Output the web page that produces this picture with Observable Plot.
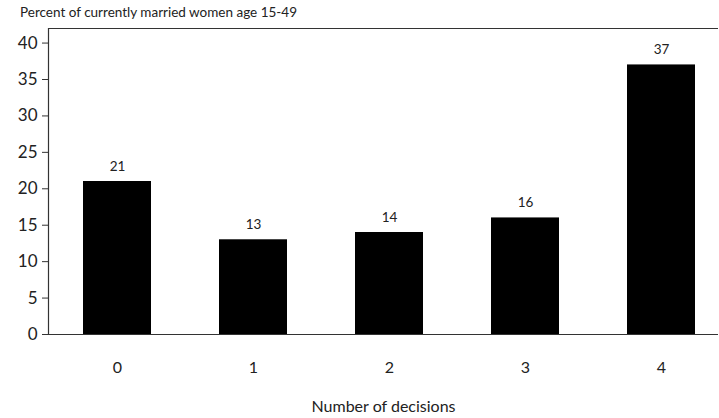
<!DOCTYPE html>
<html><head><meta charset="utf-8">
<script src="https://cdn.jsdelivr.net/npm/d3@7"></script>
<script src="https://cdn.jsdelivr.net/npm/@observablehq/plot@0.6"></script>
<style>
body{margin:0;background:#fff;font-family:Lato,"Noto Sans",sans-serif;}
#title{height:20px;line-height:20px;font-size:13.5px;color:#222;padding-left:20px;padding-top:2px;box-sizing:border-box;}
</style>
</head><body>
<div id="title"></div>
<div id="c"></div>
<script>
const title = "Percent of currently married women age 15-49";
const xLabel = "Number of decisions";
const categories = ["0", "1", "2", "3", "4"];
const values = [21, 13, 14, 16, 37];
const yTicks = [0, 5, 10, 15, 20, 25, 30, 35, 40];
const yMax = 42;

const data = categories.map((c, i) => ({c, v: values[i]}));
document.getElementById("title").textContent = title;

const chart = Plot.plot({
  width: 719,
  height: 398,
  marginLeft: 48,
  marginRight: 1,
  marginTop: 8,
  marginBottom: 84,
  style: {fontFamily: "Lato, 'Noto Sans', sans-serif", fontSize: "15px", color: "#222", background: "#fff"},
  x: {type: "band", domain: categories, range: [48, 729], paddingInner: 0.5, paddingOuter: 0.25},
  y: {domain: [0, yMax]},
  marks: [
    Plot.barY(data, {x: "c", y: "v", fill: "black"}),
    Plot.text(data, {x: "c", y: "v", text: d => String(d.v), dy: -15, fontSize: 13.5, fill: "#222"}),
    Plot.ruleY([0, yMax], {stroke: "#333", strokeWidth: 1.2}),
    Plot.frame({anchor: "left", stroke: "#333", strokeWidth: 1.2}),
    Plot.axisY({ticks: yTicks, tickSize: 6, tickPadding: 5, label: null, fontSize: 17, stroke: "#333"}),
    Plot.axisX({tickSize: 0, tickPadding: 27, label: xLabel, labelAnchor: "center", labelArrow: "none", labelOffset: 77, fontSize: 16})
  ]
});
document.getElementById("c").appendChild(chart);
</script>
</body></html>
